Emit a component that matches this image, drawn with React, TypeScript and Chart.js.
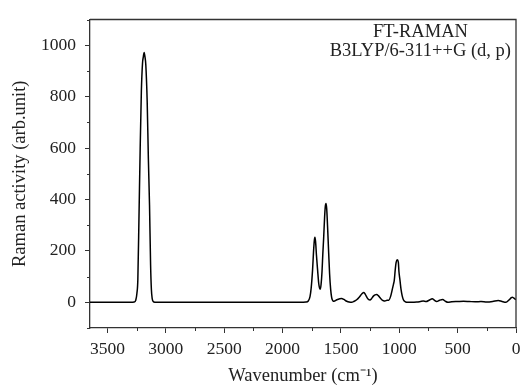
import React, { useEffect, useRef } from 'react';
import { Chart, registerables } from 'chart.js';

Chart.register(...registerables);

// Spectrum (wavenumber in cm^-1, descending)
const wavenumbers = [
  3650, 3400, 3300, 3272, 3258, 3248, 3240, 3230, 3220, 3210, 3200, 3193, 3186, 3179, 3172, 3160, 3150, 3140,
  3131, 3124, 3117, 3108, 3095, 3000, 2500, 2000, 1850, 1800, 1780, 1765, 1755, 1743, 1735, 1728, 1723, 1717,
  1710, 1700, 1690, 1683, 1677, 1670, 1662, 1655, 1648, 1640, 1634, 1628, 1622, 1615, 1605, 1597, 1588, 1580,
  1574, 1565, 1555, 1535, 1510, 1494, 1475, 1450, 1430, 1408, 1390, 1365, 1340, 1320, 1303, 1290, 1275, 1262,
  1251, 1238, 1222, 1208, 1194, 1180, 1165, 1150, 1135, 1123, 1105, 1090, 1075, 1060, 1050, 1043, 1035, 1027,
  1017, 1008, 1003, 994, 985, 975, 965, 955, 945, 930, 900, 850, 820, 795, 770, 745, 717, 700, 680, 655, 628,
  605, 583, 550, 500, 450, 400, 350, 300, 250, 200, 152, 120, 86, 60, 40, 32, 20, 10, 0,
];
const activity = [
  0, 0, 0, 1, 8, 35, 90, 340, 600, 820, 930, 955, 972, 955, 925, 780, 560, 378,
  149, 50, 14, 3, 0, 0, 0, 0, 0, 1, 5, 22, 55, 126, 195, 240, 253, 235,
  185, 126, 72, 55, 51, 70, 120, 190, 250, 330, 372, 384, 365, 300, 192, 110, 50, 20,
  10, 4, 5, 10, 14, 15, 11, 4, 1, 0, 3, 10, 22, 33, 38, 30, 17, 10,
  9, 14, 24, 29, 30, 26, 18, 10, 6, 5, 8, 8, 22, 50, 70, 85, 125, 155,
  165, 155, 120, 85, 50, 25, 10, 4, 1, 0, 0, 1, 3, 5, 3, 8, 14, 8, 3, 8, 11,
  4, 0, 2, 3, 4, 3, 2, 3, 1, 3, 7, 3, 0, 9, 18, 20, 17, 13, 10,
];

const xTickValues = [0, 500, 1000, 1500, 2000, 2500, 3000, 3500];
const xMinorValues = [250, 750, 1250, 1750, 2250, 2750, 3250];
const yTickValues = [0, 200, 400, 600, 800, 1000];
const yMinorValues = [-100, 100, 300, 500, 700, 900, 1100];
const annotationLines = ['FT-RAMAN', 'B3LYP/6-311++G (d, p)'];

const FONT = "'Liberation Serif', 'Times New Roman', serif";
const INK = '#222';
const FRAME = '#333';

const framePlugin = {
  id: 'frameAndMinor',
  afterDraw(chart: any) {
    const { ctx, chartArea, scales } = chart;
    const { left, right, top, bottom } = chartArea;
    ctx.save();
    ctx.strokeStyle = FRAME;
    ctx.lineWidth = 1.3;
    ctx.beginPath();
    ctx.moveTo(left, top);
    ctx.lineTo(right, top);
    ctx.lineTo(right, bottom);
    ctx.stroke();
    ctx.lineWidth = 1;
    ctx.beginPath();
    yMinorValues.forEach((v) => {
      const y = Math.round(scales.y.getPixelForValue(v)) + 0.5;
      ctx.moveTo(left - 3, y);
      ctx.lineTo(left, y);
    });
    xMinorValues.forEach((v) => {
      const x = Math.round(scales.x.getPixelForValue(v)) + 0.5;
      ctx.moveTo(x, bottom);
      ctx.lineTo(x, bottom + 3);
    });
    ctx.stroke();

    // annotation text
    ctx.fillStyle = INK;
    ctx.font = `18.5px ${FONT}`;
    ctx.textBaseline = 'middle';
    const w2 = ctx.measureText(annotationLines[1]).width;
    const x2 = right - 5;
    const cx = x2 - w2 / 2;
    ctx.textAlign = 'center';
    ctx.fillText(annotationLines[0], cx, top + 13);
    ctx.fillText(annotationLines[1], cx, top + 32);
    ctx.restore();
  },
};

export default function App() {
  const ref = useRef<HTMLCanvasElement | null>(null);

  useEffect(() => {
    const canvas = ref.current;
    if (!canvas) return;
    const data = wavenumbers.map((x, i) => ({ x, y: activity[i] }));
    const chart = new Chart(canvas, {
      type: 'line',
      data: {
        datasets: [
          {
            data,
            borderColor: '#000',
            borderWidth: 1.5,
            pointRadius: 0,
            fill: false,
            cubicInterpolationMode: 'monotone',
          },
        ],
      },
      options: {
        animation: false,
        responsive: false,
        devicePixelRatio: 1,
        layout: { padding: { top: 14, right: 5, left: 0, bottom: 0 } },
        plugins: { legend: { display: false }, tooltip: { enabled: false } },
        scales: {
          x: {
            type: 'linear',
            reverse: true,
            min: 0,
            max: 3650,
            afterBuildTicks: (scale: any) => {
              scale.ticks = xTickValues.map((value) => ({ value }));
            },
            afterFit: (scale: any) => {
              scale.height = 62;
            },
            grid: { drawOnChartArea: false, tickLength: 5, tickColor: FRAME, tickWidth: 1 },
            border: { display: true, color: FRAME, width: 1.3 },
            ticks: {
              color: INK,
              font: { family: FONT, size: 17.5 },
              padding: 6,
              maxRotation: 0,
              autoSkip: false,
              callback: (v: any) => String(v),
            },
            title: {
              display: true,
              text: 'Wavenumber (cm⁻¹)',
              color: INK,
              font: { family: FONT, size: 18.5 },
              padding: { top: 0, bottom: 3 },
            },
          },
          y: {
            type: 'linear',
            min: -100,
            max: 1100,
            afterBuildTicks: (scale: any) => {
              scale.ticks = yTickValues.map((value) => ({ value }));
            },
            afterFit: (scale: any) => {
              scale.width = 90;
            },
            grid: { drawOnChartArea: false, tickLength: 5, tickColor: FRAME, tickWidth: 1 },
            border: { display: true, color: FRAME, width: 1.3 },
            ticks: {
              color: INK,
              font: { family: FONT, size: 17.5 },
              padding: 9,
              autoSkip: false,
              callback: (v: any) => String(v),
            },
            title: {
              display: true,
              text: 'Raman activity (arb.unit)',
              color: INK,
              font: { family: FONT, size: 18.5 },
              padding: { top: 9, bottom: 0 },
            },
          },
        },
      },
      plugins: [framePlugin],
    });
    return () => chart.destroy();
  }, []);

  return (
    <div style={{ position: 'fixed', left: 0, top: 0, width: 521, height: 390, background: '#fff' }}>
      <canvas ref={ref} width={521} height={390} style={{ width: 521, height: 390, display: 'block' }} />
    </div>
  );
}
